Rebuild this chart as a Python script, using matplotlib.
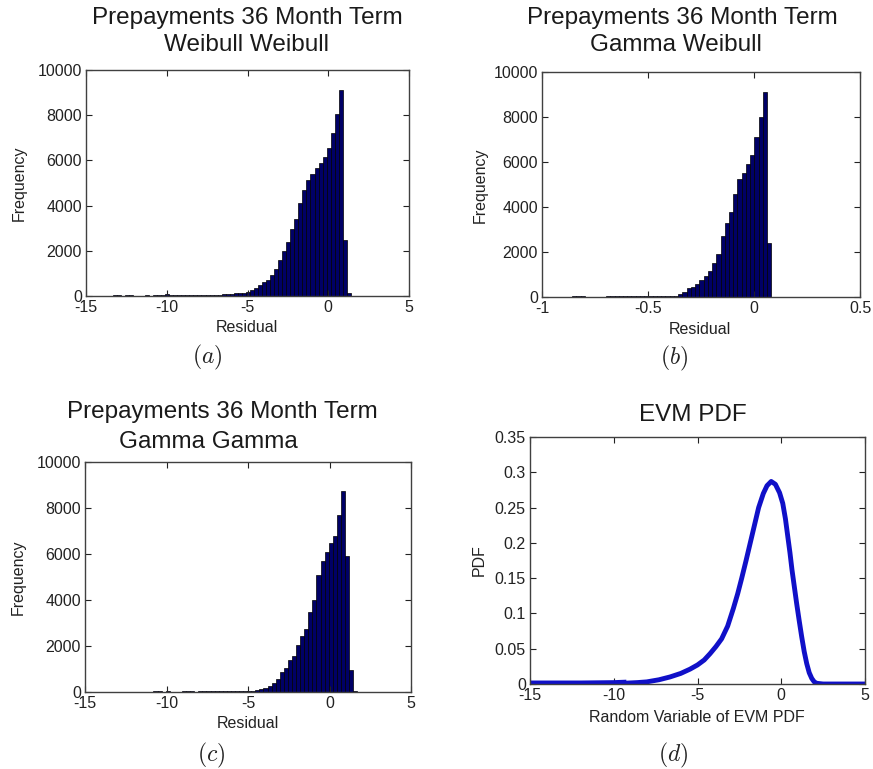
import matplotlib

matplotlib.use("Agg")
import matplotlib.pyplot as plt
from matplotlib.ticker import FuncFormatter
import numpy as np

W, H = 873, 769

# (a) Weibull Weibull residual histogram, bins of 0.25 starting at -13.60
a_start, a_width = -13.60, 0.25
a_counts = [
    0, 60, 50, 0, 40, 30, 0, 0, 20, 40,
    20, 40, 50, 50, 70, 40, 40, 40, 40, 40,
    40, 40, 40, 50, 50, 50, 50, 60, 90, 100,
    100, 120, 130, 150, 190, 260, 350, 480, 620, 700,
    950, 1200, 1600, 2000, 2400, 2950, 3400, 4100, 4700, 5150,
    5400, 5650, 5900, 6150, 6550, 7200, 8050, 9100, 2500, 150,
]

# (b) Gamma Weibull residual histogram, bins of 0.02 starting at -0.858
b_start, b_width = -0.858, 0.02
b_counts = [
    40, 40, 30, 0, 20, 0, 20, 0, 30, 40,
    40, 30, 40, 40, 40, 40, 40, 40, 40, 50,
    50, 50, 50, 50, 60, 120, 240, 380, 430, 580,
    750, 950, 1150, 1500, 1900, 2700, 3300, 3800, 4600, 5250,
    5500, 5900, 6300, 7100, 8000, 9100, 2400,
]

# (c) Gamma Gamma residual histogram, bins of 0.25 starting at -11.05
c_start, c_width = -11.05, 0.25
c_counts = [
    0, 30, 30, 0, 50, 0, 0, 20, 40, 30,
    40, 20, 30, 30, 30, 30, 30, 30, 30, 30,
    30, 40, 40, 40, 50, 60, 80, 110, 170, 250,
    400, 550, 850, 1050, 1400, 1550, 2050, 2450, 2750, 3500,
    4000, 5100, 5700, 6100, 6500, 6800, 7700, 8750, 5900, 950,
    60,
]

# (d) EVM PDF
d_x = [-15, -12, -10, -9.45, -8.6, -8.03, -7.3, -6.64, -6.0, -5.45, -5.0, -4.6,
       -4.25, -3.9, -3.56, -3.2, -2.86, -2.6, -2.36, -2.1, -1.85, -1.6, -1.35,
       -1.07, -0.85, -0.6, -0.35, -0.1, 0.09, 0.25, 0.39, 0.52, 0.64, 0.78,
       0.92, 1.07, 1.22, 1.37, 1.52, 1.67, 1.82, 1.97, 2.12, 2.5, 3, 4, 5]
d_pdf = [0.0, 0.0, 0.0005, 0.001, 0.002, 0.003, 0.006, 0.010, 0.015, 0.021, 0.027, 0.034,
         0.043, 0.053, 0.064, 0.082, 0.107, 0.128, 0.150, 0.175, 0.200, 0.225, 0.250,
         0.270, 0.281, 0.287, 0.283, 0.271, 0.256, 0.234, 0.209, 0.186, 0.162, 0.138,
         0.114, 0.090, 0.067, 0.046, 0.029, 0.016, 0.008, 0.003, 0.001, 0.0, 0.0, 0.0, 0.0]

title_top = "Prepayments 36 Month Term"
titles_second = ["Weibull Weibull", "Gamma Weibull", "Gamma Gamma"]
captions = ["$(a)$", "$(b)$", "$(c)$", "$(d)$"]

plt.rcParams["font.family"] = ["Liberation Sans", "DejaVu Sans"]
plt.rcParams["mathtext.fontset"] = "cm"
plt.rcParams["axes.unicode_minus"] = False

BAR_FACE = "#000066"
LINE_BLUE = "#1010c8"
SPINE = "#404040"
TICK_SIZE = 11.5
TITLE_SIZE = 17.5


def px_axes(fig, left, top, right, bottom):
    return fig.add_axes([left / W, 1 - bottom / H, (right - left) / W, (bottom - top) / H])


def style(ax):
    for s in ax.spines.values():
        s.set_color(SPINE)
        s.set_linewidth(1.0)
    ax.tick_params(direction="in", length=4, width=0.8, top=True, right=True,
                   labelsize=TICK_SIZE, colors="#222222", pad=3)


def hist_panel(ax, start, width, counts, xlim, xticks):
    edges = start + width * np.arange(len(counts))
    ax.bar(edges, counts, width=width, align="edge", color=BAR_FACE,
           edgecolor="black", linewidth=0.5)
    ax.set_xlim(*xlim)
    ax.set_ylim(0, 10000)
    ax.set_xticks(xticks)
    ax.set_yticks([0, 2000, 4000, 6000, 8000, 10000])
    ax.xaxis.set_major_formatter(FuncFormatter(lambda v, p: f"{v:g}"))
    style(ax)


def ax_coords(box, px, py):
    left, top, right, bottom = box
    return (px - left) / (right - left), (bottom - py) / (bottom - top)


fig = plt.figure(figsize=(W / 100, H / 100), dpi=100)

box_a = (86, 70, 409, 296)
box_b = (542, 72, 860, 297)
box_c = (85, 462, 411, 692)
box_d = (530, 437, 865, 684)

ax_a = px_axes(fig, *box_a)
hist_panel(ax_a, a_start, a_width, a_counts, (-15, 5), [-15, -10, -5, 0, 5])
ax_b = px_axes(fig, *box_b)
hist_panel(ax_b, b_start, b_width, b_counts, (-1, 0.5), [-1, -0.5, 0, 0.5])
ax_c = px_axes(fig, *box_c)
hist_panel(ax_c, c_start, c_width, c_counts, (-15, 5), [-15, -10, -5, 0, 5])

ax_d = px_axes(fig, *box_d)
ax_d.plot(d_x, d_pdf, color=LINE_BLUE, linewidth=3.5, solid_capstyle="round",
          solid_joinstyle="round")
ax_d.plot(d_x[:4], d_pdf[:4], color=LINE_BLUE, linewidth=5)
ax_d.set_xlim(-15, 5)
ax_d.set_ylim(0, 0.35)
ax_d.set_xticks([-15, -10, -5, 0, 5])
ax_d.set_yticks([0, 0.05, 0.1, 0.15, 0.2, 0.25, 0.3, 0.35])
ax_d.yaxis.set_major_formatter(FuncFormatter(lambda v, p: f"{v:g}"))
style(ax_d)

# axis labels placed at pixel positions
labels = [
    (ax_a, box_a, "Residual", 247, 327, "Frequency", 19, 183),
    (ax_b, box_b, "Residual", 700, 330, "Frequency", 480, 185),
    (ax_c, box_c, "Residual", 248, 723, "Frequency", 18, 577),
    (ax_d, box_d, "Random Variable of EVM PDF", 697, 717, "PDF", 479, 560),
]
for ax, box, xl, xx, xy, yl, yx, yy in labels:
    ax.set_xlabel(xl, fontsize=TICK_SIZE, color="#222222")
    ax.xaxis.set_label_coords(*ax_coords(box, xx, xy))
    ax.xaxis.label.set_va("center")
    ax.set_ylabel(yl, fontsize=TICK_SIZE, color="#222222")
    ax.yaxis.set_label_coords(*ax_coords(box, yx, yy))
    ax.yaxis.label.set_va("center")

# titles, one text per line
title_lines = [
    (title_top, 247, 18), (titles_second[0], 247, 45),
    (title_top, 682, 18), (titles_second[1], 676, 45),
    (title_top, 222, 412), (titles_second[2], 208, 442),
    ("EVM PDF", 693, 415),
]
for text, x, y in title_lines:
    fig.text(x / W, 1 - y / H, text, ha="center", va="center",
             fontsize=TITLE_SIZE, color="#1a1a1a")

caption_pos = [(207, 357), (674, 358), (211, 755), (673, 755)]
for text, (x, y) in zip(captions, caption_pos):
    fig.text(x / W, 1 - y / H, text, ha="center", va="center", fontsize=17, color="#222222")

fig.savefig("out.png", dpi=100)
